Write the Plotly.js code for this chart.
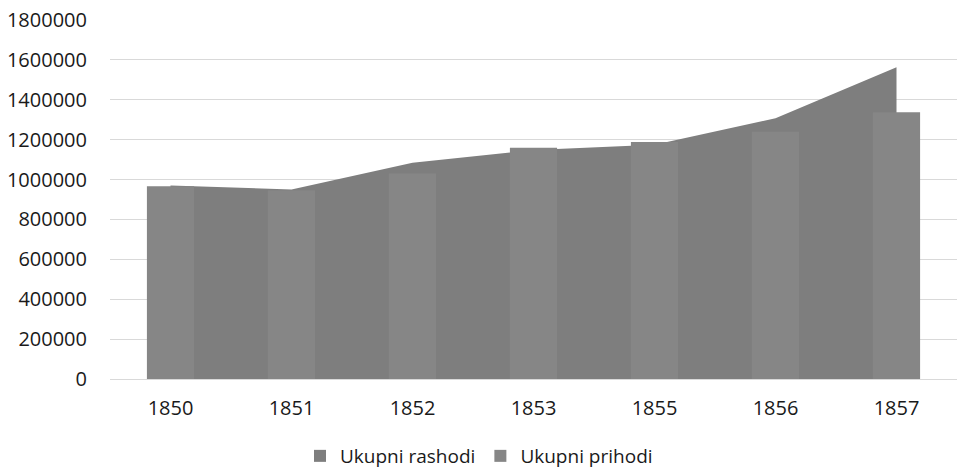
<!DOCTYPE html>
<html>
<head>
<meta charset="utf-8">
<script src="https://cdn.plot.ly/plotly-3.0.1.min.js"></script>
<style>html,body{margin:0;padding:0;background:#fff;}#chart{width:958px;height:472px;}</style>
</head>
<body>
<div id="chart"></div>
<script>
const years = ['1850','1851','1852','1853','1855','1856','1857'];
const rashodi = [970000, 950000, 1084000, 1148000, 1175000, 1307000, 1563000];
const prihodi = [966000, 946000, 1030000, 1160000, 1188000, 1240000, 1337000];
const yTicks = [0,200000,400000,600000,800000,1000000,1200000,1400000,1600000,1800000];

const areaColor = 'rgb(126,126,126)';
const barColor = 'rgb(134,134,134)';
const font = {family: '"Open Sans", sans-serif', size: 20, color: '#1a1a1a'};
const legFont = {family: '"Open Sans", sans-serif', size: 19, color: '#1a1a1a'};

const traces = [
  {type:'scatter', x: years, y: rashodi, mode:'lines', fill:'tozeroy',
   line:{color: areaColor, width:0}, fillcolor: areaColor, showlegend:false,
   legendgroup:'r', hoverinfo:'skip'},
  {type:'bar', x: [years[0]], y: [null], name:'Ukupni rashodi', marker:{color: areaColor},
   legendgroup:'r', showlegend:true, xaxis:'x2', yaxis:'y2'},
  {type:'bar', x: years, y: prihodi, name:'Ukupni prihodi', marker:{color: barColor, line:{width:0}},
   xaxis:'x2', yaxis:'y2'}
];

const xBase = {type:'category', categoryorder:'array', categoryarray: years, range:[-0.5, 6.5],
          showgrid:false, showline:false, zeroline:false, ticks:'outside', ticklen:11,
          tickcolor:'rgba(0,0,0,0)', tickfont: font};
const yBase = {range:[0,1800000], tickvals: yTicks, ticktext: yTicks.map(String),
          showgrid:true, gridcolor:'#d9d9d9', gridwidth:1, zeroline:true, zerolinecolor:'#d9d9d9', zerolinewidth:1,
          showline:false, ticks:'outside', ticklen:18, tickcolor:'rgba(0,0,0,0)', tickfont: font};

const layout = {
  width: 958, height: 472,
  margin: {l:110, r:1, t:20, b:93, autoexpand:false},
  paper_bgcolor:'#fff', plot_bgcolor:'#fff',
  font: font,
  bargap: 0.61,
  barmode: 'overlay',
  showlegend: true,
  legend: {orientation:'h', x:0.5, xanchor:'center', xref:'container', y:-0.2145, yanchor:'middle',
           font: legFont, traceorder:'normal', itemwidth:30, borderwidth:0},
  xaxis: xBase,
  yaxis: yBase,
  xaxis2: Object.assign({}, xBase, {overlaying:'x', showticklabels:false, ticks:''}),
  yaxis2: Object.assign({}, yBase, {overlaying:'y', showticklabels:false, ticks:'', showgrid:false, zeroline:false})
};

Plotly.newPlot('chart', traces, layout, {staticPlot:true, displayModeBar:false});
</script>
</body>
</html>
